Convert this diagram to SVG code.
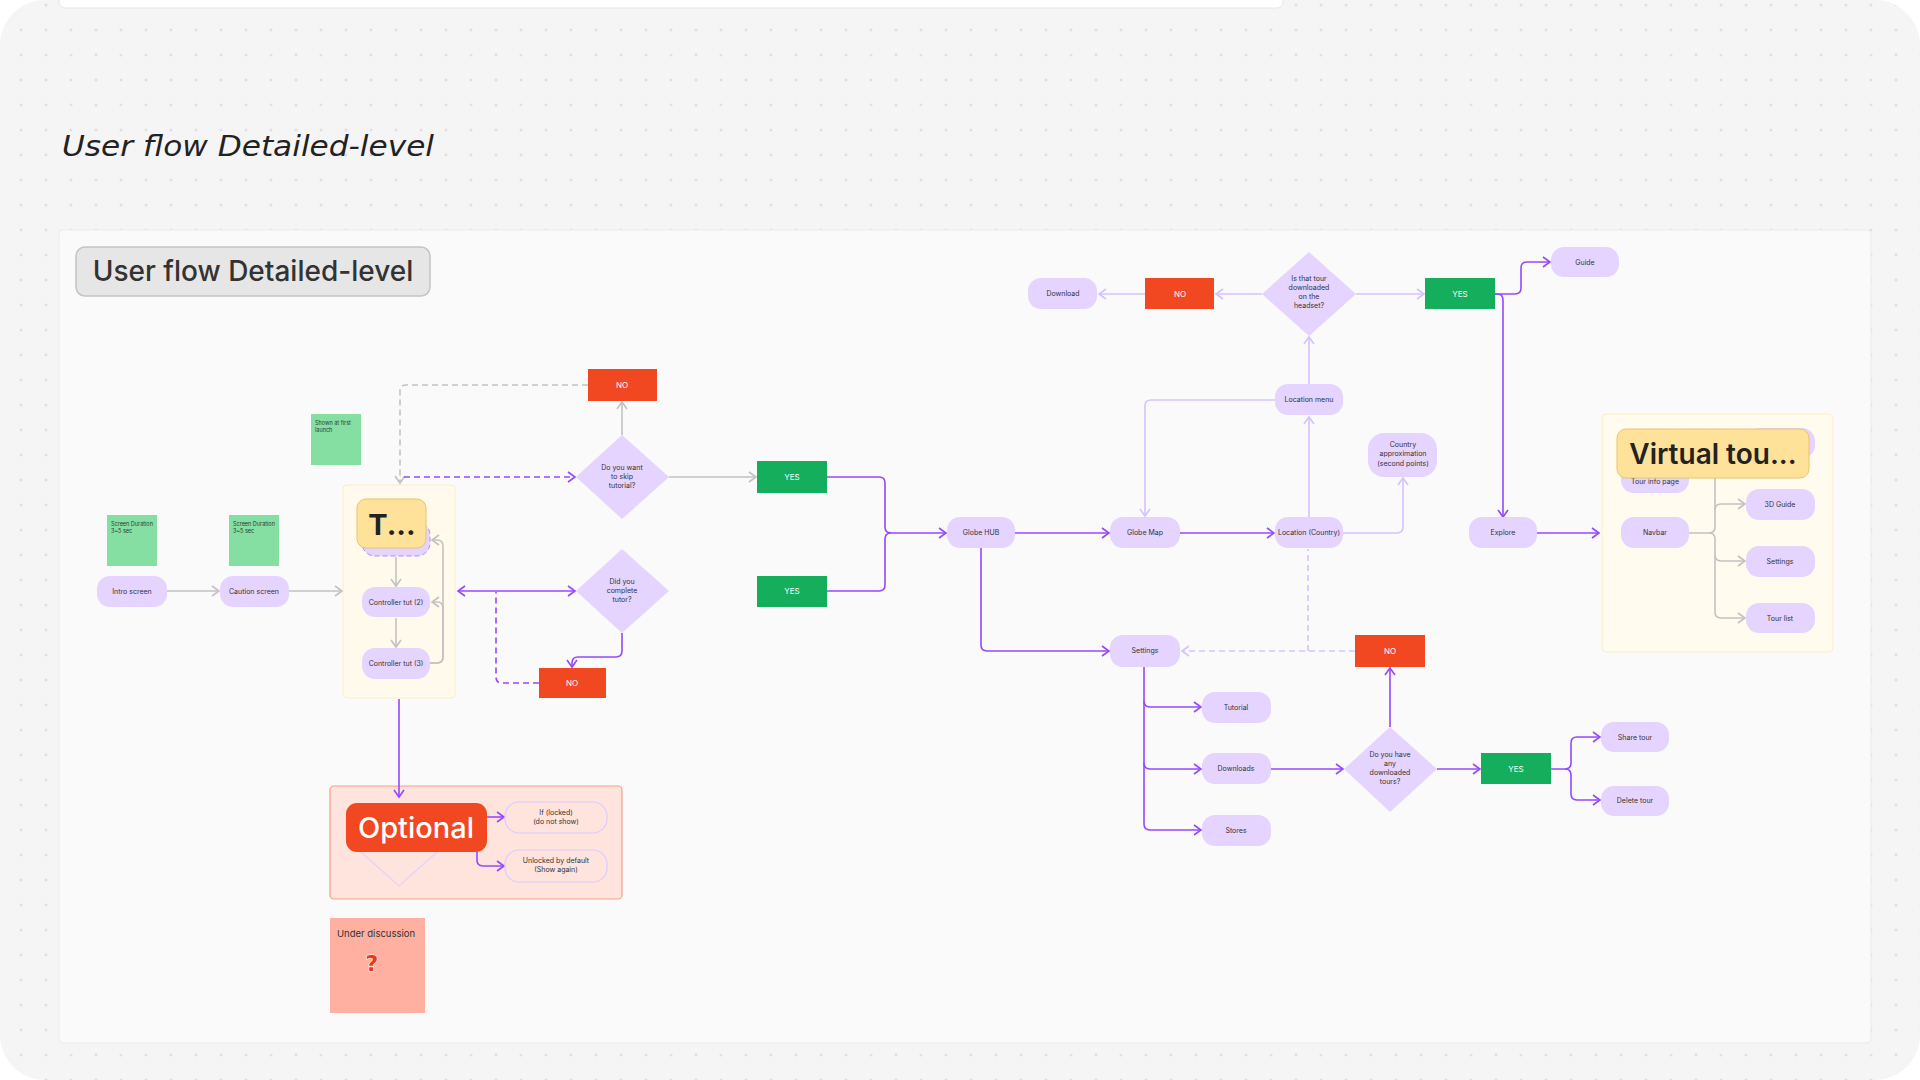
<svg xmlns="http://www.w3.org/2000/svg" width="1920" height="1080" viewBox="0 0 1920 1080">
<style>
.nd{fill:#e5d4ff;}
.t{font-family:Inter,"Liberation Sans",sans-serif;font-size:7px;fill:#333;text-anchor:middle;}
.tw{font-family:Inter,"Liberation Sans",sans-serif;font-size:8px;fill:#fff;text-anchor:middle;}
.red{fill:#f24822;}
.grn{fill:#14ae5c;}
.cp{fill:none;stroke:#9747ff;stroke-width:1.6;}
.cl{fill:none;stroke:#d6c2ff;stroke-width:1.6;}
.cg{fill:none;stroke:#c2c2c2;stroke-width:1.6;}
.sticky{font-family:Inter,"Liberation Sans",sans-serif;font-size:5.5px;fill:#2b3b30;}
</style>
<defs>
<pattern id="dots" x="8.5" y="-7.5" width="25" height="25" patternUnits="userSpaceOnUse"><circle cx="12.5" cy="12.5" r="1" fill="#c6c6c6"/></pattern>
<marker id="ap" viewBox="-9 -7 11 14" refX="0" refY="0" markerWidth="11" markerHeight="14" markerUnits="userSpaceOnUse" orient="auto-start-reverse"><path d="M-7,-5 L0,0 L-7,5" fill="none" stroke="#9747ff" stroke-width="1.6"/></marker>
<marker id="al" viewBox="-9 -7 11 14" refX="0" refY="0" markerWidth="11" markerHeight="14" markerUnits="userSpaceOnUse" orient="auto-start-reverse"><path d="M-7,-5 L0,0 L-7,5" fill="none" stroke="#d6c2ff" stroke-width="1.6"/></marker>
<marker id="ag" viewBox="-9 -7 11 14" refX="0" refY="0" markerWidth="11" markerHeight="14" markerUnits="userSpaceOnUse" orient="auto-start-reverse"><path d="M-7,-5 L0,0 L-7,5" fill="none" stroke="#c2c2c2" stroke-width="1.6"/></marker>
</defs>
<rect width="1920" height="1080" fill="#ffffff"/>
<rect width="1920" height="1080" rx="45" fill="#f5f5f5"/>
<rect width="1920" height="1080" rx="45" fill="url(#dots)"/>
<rect x="59" y="-10" width="1224" height="18" rx="6" fill="#ffffff" stroke="#e6e6e6"/>
<text x="62" y="156" font-family="'DejaVu Sans',sans-serif" font-style="italic" font-size="28" fill="#222" textLength="372" lengthAdjust="spacingAndGlyphs">User flow Detailed-level</text>
<rect x="59" y="230" width="1812" height="813" rx="4" fill="#fafafa" stroke="#ebebeb"/>
<g id="section-label">
<rect x="76" y="247" width="354" height="49" rx="9" fill="#e6e6e6" stroke="#c4c4c4" stroke-width="1.5"/>
<text x="253" y="281" font-family="Inter,'Liberation Sans',sans-serif" font-size="28" font-weight="500" fill="#333" text-anchor="middle">User flow Detailed-level</text>
</g>

<!-- groups -->
<g id="tutorial-group">
<rect x="343" y="485" width="112" height="213" rx="4" fill="#fffaeb" stroke="#fbeec6"/>
</g>
<g id="optional-group">
<rect x="330" y="786" width="292" height="113" rx="4" fill="#ffe3dd" stroke="#f7a08a" stroke-width="1.2"/>
<path d="M353,845 L399,803 L445,845 L399,886 Z" fill="#ffe3dd" stroke="#e2d2ff" stroke-width="1.2"/>
</g>
<g id="virtual-tour-group">
<rect x="1602" y="414" width="231" height="238" rx="4" fill="#fffbef" stroke="#fbeec6"/>
</g>

<g id="connectors">
<!-- gray -->
<path class="cg" d="M167,591 H219" marker-end="url(#ag)"/>
<path class="cg" d="M289,591 H342" marker-end="url(#ag)"/>
<path class="cg" d="M396,557 V586" marker-end="url(#ag)"/>
<path class="cg" d="M396,618 V647" marker-end="url(#ag)"/>
<path class="cg" d="M430,663 H437 Q443,663 443,657 V608 Q443,602 437,602 H432" marker-end="url(#ag)"/>
<path class="cg" d="M430,663 H437 Q443,663 443,657 V546 Q443,540 437,540 H432" marker-end="url(#ag)"/>
<path class="cg" d="M622,435 V402" marker-end="url(#ag)"/>
<path class="cg" d="M669,477 V477 H756" marker-end="url(#ag)"/>
<path class="cg" d="M588,385 H406 Q400,385 400,391 V483" stroke-dasharray="6 4" marker-end="url(#ag)"/>
<path class="cg" d="M1689,533 H1709 Q1715,533 1715,527 V478"/>
<path class="cg" d="M1715,510 Q1715,504 1721,504 H1745" marker-end="url(#ag)"/>
<path class="cg" d="M1709,533 Q1715,533 1715,539 V555 Q1715,561 1721,561 H1745" marker-end="url(#ag)"/>
<path class="cg" d="M1715,555 V612 Q1715,618 1721,618 H1745" marker-end="url(#ag)"/>
<!-- purple -->
<path class="cp" d="M404,477 H575" stroke-dasharray="6 4" marker-end="url(#ap)"/>
<path class="cp" d="M458,591 H575" marker-start="url(#ap)" marker-end="url(#ap)"/>
<path class="cp" d="M622,633 V651 Q622,657 616,657 H578 Q572,657 572,663 V667" marker-end="url(#ap)"/>
<path class="cp" d="M539,683 H502 Q496,683 496,677 V592" stroke-dasharray="6 4"/>
<path class="cp" d="M827,477 H879 Q885,477 885,483 V527 Q885,533 891,533 H946" marker-end="url(#ap)"/>
<path class="cp" d="M827,591 H879 Q885,591 885,585 V539 Q885,533 891,533"/>
<path class="cp" d="M399,699 V797" marker-end="url(#ap)"/>
<path class="cp" d="M487,817 H504" marker-end="url(#ap)"/>
<path class="cp" d="M477,852 V860 Q477,866 483,866 H504" marker-end="url(#ap)"/>
<path class="cp" d="M1015,533 H1109" marker-end="url(#ap)"/>
<path class="cp" d="M1180,533 H1274" marker-end="url(#ap)"/>
<path class="cp" d="M981,548 V645 Q981,651 987,651 H1109" marker-end="url(#ap)"/>
<path class="cp" d="M1144,667 V824 Q1144,830 1150,830 H1201" marker-end="url(#ap)"/>
<path class="cp" d="M1144,701 Q1144,707 1150,707 H1201" marker-end="url(#ap)"/>
<path class="cp" d="M1144,763 Q1144,769 1150,769 H1201" marker-end="url(#ap)"/>
<path class="cp" d="M1271,769 H1343" marker-end="url(#ap)"/>
<path class="cp" d="M1390,727 V668" marker-end="url(#ap)"/>
<path class="cp" d="M1437,769 H1480" marker-end="url(#ap)"/>
<path class="cp" d="M1551,769 H1565 Q1571,769 1571,763 V743 Q1571,737 1577,737 H1600" marker-end="url(#ap)"/>
<path class="cp" d="M1565,769 Q1571,769 1571,775 V794 Q1571,800 1577,800 H1600" marker-end="url(#ap)"/>
<path class="cp" d="M1495,294 H1515 Q1521,294 1521,288 V268 Q1521,262 1527,262 H1550" marker-end="url(#ap)"/>
<path class="cp" d="M1495,294 H1497 Q1503,294 1503,300 V517" marker-end="url(#ap)"/>
<path class="cp" d="M1537,533 H1599" marker-end="url(#ap)"/>
<!-- light -->
<path class="cl" d="M1309,518 V417" stroke-width="2.6" marker-end="url(#al)"/>
<path class="cl" d="M1275,400 H1151 Q1145,400 1145,406 V516" marker-end="url(#al)"/>
<path class="cl" d="M1343,533 H1397 Q1403,533 1403,527 V478" marker-end="url(#al)"/>
<path class="cl" d="M1309,384 V337" marker-end="url(#al)"/>
<path class="cl" d="M1262,294 H1216" marker-end="url(#al)"/>
<path class="cl" d="M1145,294 H1099" marker-end="url(#al)"/>
<path class="cl" d="M1356,294 H1424" marker-end="url(#al)"/>
<path class="cl" d="M1355,651 H1182" stroke-dasharray="6 4" marker-end="url(#al)"/>
<path class="cl" d="M1308,651 V549" stroke-dasharray="6 4"/>
</g>

<!-- stickies -->
<g id="sticky-1"><rect x="107" y="515" width="50" height="51" fill="#85dfa2"/><text class="sticky" x="111" y="526">Screen Duration</text><text class="sticky" x="111" y="533">3~5 sec</text></g>
<g id="sticky-2"><rect x="229" y="515" width="50" height="51" fill="#85dfa2"/><text class="sticky" x="233" y="526">Screen Duration</text><text class="sticky" x="233" y="533">3~5 sec</text></g>
<g id="sticky-3"><rect x="311" y="414" width="50" height="51" fill="#85dfa2"/><text class="sticky" x="315" y="425">Shown at first</text><text class="sticky" x="315" y="432">launch</text></g>
<g id="sticky-discussion"><rect x="330" y="918" width="95" height="95" fill="#ffb0a0"/><text x="337" y="937" font-family="Inter,'Liberation Sans',sans-serif" font-size="9.5" fill="#333">Under discussion</text><text x="372" y="971" font-family="'DejaVu Sans',sans-serif" font-size="22" font-weight="bold" fill="#e8391c" stroke="#fff" stroke-width="1" paint-order="stroke" text-anchor="middle">?</text></g>

<!-- nodes -->
<g id="intro"><rect class="nd" x="97" y="576" width="70" height="31" rx="13"/><text class="t" x="132" y="594">Intro screen</text></g>
<g id="caution"><rect class="nd" x="220" y="576" width="69" height="31" rx="13"/><text class="t" x="254" y="594">Caution screen</text></g>
<g id="tut1"><rect class="nd" x="362" y="522" width="68" height="34" rx="13" stroke="#b58aff" stroke-dasharray="5 3"/></g>
<g id="tut-label"><rect x="357" y="499" width="69" height="49" rx="9" fill="#ffe29a" stroke="#e9c46c"/><text x="392" y="535" font-family="Inter,'Liberation Sans',sans-serif" font-size="29" font-weight="700" fill="#222" text-anchor="middle">T...</text></g>
<g id="tut2"><rect class="nd" x="362" y="587" width="68" height="30" rx="13"/><text class="t" x="396" y="605">Controller tut (2)</text></g>
<g id="tut3"><rect class="nd" x="362" y="648" width="68" height="31" rx="13"/><text class="t" x="396" y="666">Controller tut (3)</text></g>

<g id="d-skip"><path class="nd" d="M622,435 L669,477 L622,519 L576,477 Z"/><text class="t" x="622" y="470" font-size="6.5">Do you want</text><text class="t" x="622" y="479" font-size="6.5">to skip</text><text class="t" x="622" y="488" font-size="6.5">tutorial?</text></g>
<g id="no-skip"><rect class="red" x="588" y="369" width="69" height="32"/><text class="tw" x="622" y="388">NO</text></g>
<g id="yes-skip"><rect class="grn" x="757" y="461" width="70" height="32"/><text class="tw" x="792" y="480">YES</text></g>
<g id="d-complete"><path class="nd" d="M622,549 L669,591 L622,633 L576,591 Z"/><text class="t" x="622" y="584" font-size="6.5">Did you</text><text class="t" x="622" y="593" font-size="6.5">complete</text><text class="t" x="622" y="602" font-size="6.5">tutor?</text></g>
<g id="yes-complete"><rect class="grn" x="757" y="576" width="70" height="31"/><text class="tw" x="792" y="594">YES</text></g>
<g id="no-complete"><rect class="red" x="539" y="668" width="67" height="30"/><text class="tw" x="572" y="686">NO</text></g>

<g id="optional"><rect x="346" y="803" width="141" height="49" rx="11" fill="#f24822"/><text x="416" y="838" font-family="Inter,'Liberation Sans',sans-serif" font-size="29" font-weight="500" fill="#fff" text-anchor="middle">Optional</text></g>
<g id="opt-locked"><rect x="505" y="802" width="102" height="31" rx="14" fill="none" stroke="#dccbff" stroke-width="1.2"/><text class="t" x="556" y="815" font-size="6.5">If (locked)</text><text class="t" x="556" y="824" font-size="6.5">(do not show)</text></g>
<g id="opt-unlocked"><rect x="505" y="850" width="102" height="32" rx="14" fill="none" stroke="#dccbff" stroke-width="1.2"/><text class="t" x="556" y="863" font-size="6.5">Unlocked by default</text><text class="t" x="556" y="872" font-size="6.5">(Show again)</text></g>

<g id="globe-hub"><rect class="nd" x="947" y="517" width="68" height="31" rx="13"/><text class="t" x="981" y="535">Globe HUB</text></g>
<g id="globe-map"><rect class="nd" x="1110" y="517" width="70" height="31" rx="13"/><text class="t" x="1145" y="535">Globe Map</text></g>
<g id="location"><rect class="nd" x="1275" y="517" width="68" height="31" rx="13"/><text class="t" x="1309" y="535">Location (Country)</text></g>
<g id="location-menu"><rect class="nd" x="1275" y="384" width="68" height="31" rx="13"/><text class="t" x="1309" y="402">Location menu</text></g>
<g id="country-approx"><rect class="nd" x="1368" y="433" width="69" height="44" rx="16"/><text class="t" x="1403" y="447" font-size="6.5">Country</text><text class="t" x="1403" y="456" font-size="6.5">approximation</text><text class="t" x="1403" y="466" font-size="6.5">(second points)</text></g>

<g id="d-headset"><path class="nd" d="M1309,252 L1356,294 L1309,336 L1262,294 Z"/><text class="t" x="1309" y="281" font-size="6">Is that tour</text><text class="t" x="1309" y="290" font-size="6">downloaded</text><text class="t" x="1309" y="299" font-size="6">on the</text><text class="t" x="1309" y="308" font-size="6">headset?</text></g>
<g id="no-headset"><rect class="red" x="1145" y="278" width="69" height="31"/><text class="tw" x="1180" y="297">NO</text></g>
<g id="download"><rect class="nd" x="1028" y="278" width="69" height="31" rx="13"/><text class="t" x="1063" y="296">Download</text></g>
<g id="yes-headset"><rect class="grn" x="1425" y="278" width="70" height="31"/><text class="tw" x="1460" y="297">YES</text></g>
<g id="guide"><rect class="nd" x="1551" y="247" width="68" height="30" rx="13"/><text class="t" x="1585" y="265">Guide</text></g>
<g id="explore"><rect class="nd" x="1469" y="517" width="68" height="31" rx="13"/><text class="t" x="1503" y="535">Explore</text></g>

<g id="settings"><rect class="nd" x="1110" y="635" width="70" height="32" rx="13"/><text class="t" x="1145" y="653">Settings</text></g>
<g id="no-settings"><rect class="red" x="1355" y="635" width="70" height="32"/><text class="tw" x="1390" y="654">NO</text></g>
<g id="tutorial"><rect class="nd" x="1202" y="692" width="69" height="31" rx="13"/><text class="t" x="1236" y="710">Tutorial</text></g>
<g id="downloads"><rect class="nd" x="1202" y="753" width="69" height="31" rx="13"/><text class="t" x="1236" y="771">Downloads</text></g>
<g id="stores"><rect class="nd" x="1202" y="815" width="69" height="31" rx="13"/><text class="t" x="1236" y="833">Stores</text></g>
<g id="d-downloaded"><path class="nd" d="M1390,727 L1437,769 L1390,812 L1344,769 Z"/><text class="t" x="1390" y="757" font-size="6">Do you have</text><text class="t" x="1390" y="766" font-size="6">any</text><text class="t" x="1390" y="775" font-size="6">downloaded</text><text class="t" x="1390" y="784" font-size="6">tours?</text></g>
<g id="yes-downloaded"><rect class="grn" x="1481" y="753" width="70" height="31"/><text class="tw" x="1516" y="772">YES</text></g>
<g id="share-tour"><rect class="nd" x="1601" y="722" width="68" height="30" rx="13"/><text class="t" x="1635" y="740">Share tour</text></g>
<g id="delete-tour"><rect class="nd" x="1601" y="786" width="68" height="30" rx="13"/><text class="t" x="1635" y="803">Delete tour</text></g>

<g id="vt-hidden-right"><rect class="nd" x="1746" y="428" width="69" height="30" rx="13"/></g>
<g id="tour-info"><rect class="nd" x="1621" y="462" width="68" height="31" rx="13"/><text class="t" x="1655" y="484">Tour info page</text></g>
<g id="navbar"><rect class="nd" x="1621" y="517" width="68" height="31" rx="13"/><text class="t" x="1655" y="535">Navbar</text></g>
<g id="guide-3d"><rect class="nd" x="1746" y="489" width="69" height="31" rx="13"/><text class="t" x="1780" y="507">3D Guide</text></g>
<g id="vt-settings"><rect class="nd" x="1746" y="546" width="69" height="31" rx="13"/><text class="t" x="1780" y="564">Settings</text></g>
<g id="tour-list"><rect class="nd" x="1746" y="603" width="69" height="30" rx="13"/><text class="t" x="1780" y="621">Tour list</text></g>
<g id="vt-label"><rect x="1617" y="429" width="192" height="49" rx="9" fill="#ffe29a" stroke="#e9c46c"/><text x="1713" y="464" font-family="Inter,'Liberation Sans',sans-serif" font-size="28" font-weight="600" fill="#222" text-anchor="middle">Virtual tou...</text></g>
</svg>
